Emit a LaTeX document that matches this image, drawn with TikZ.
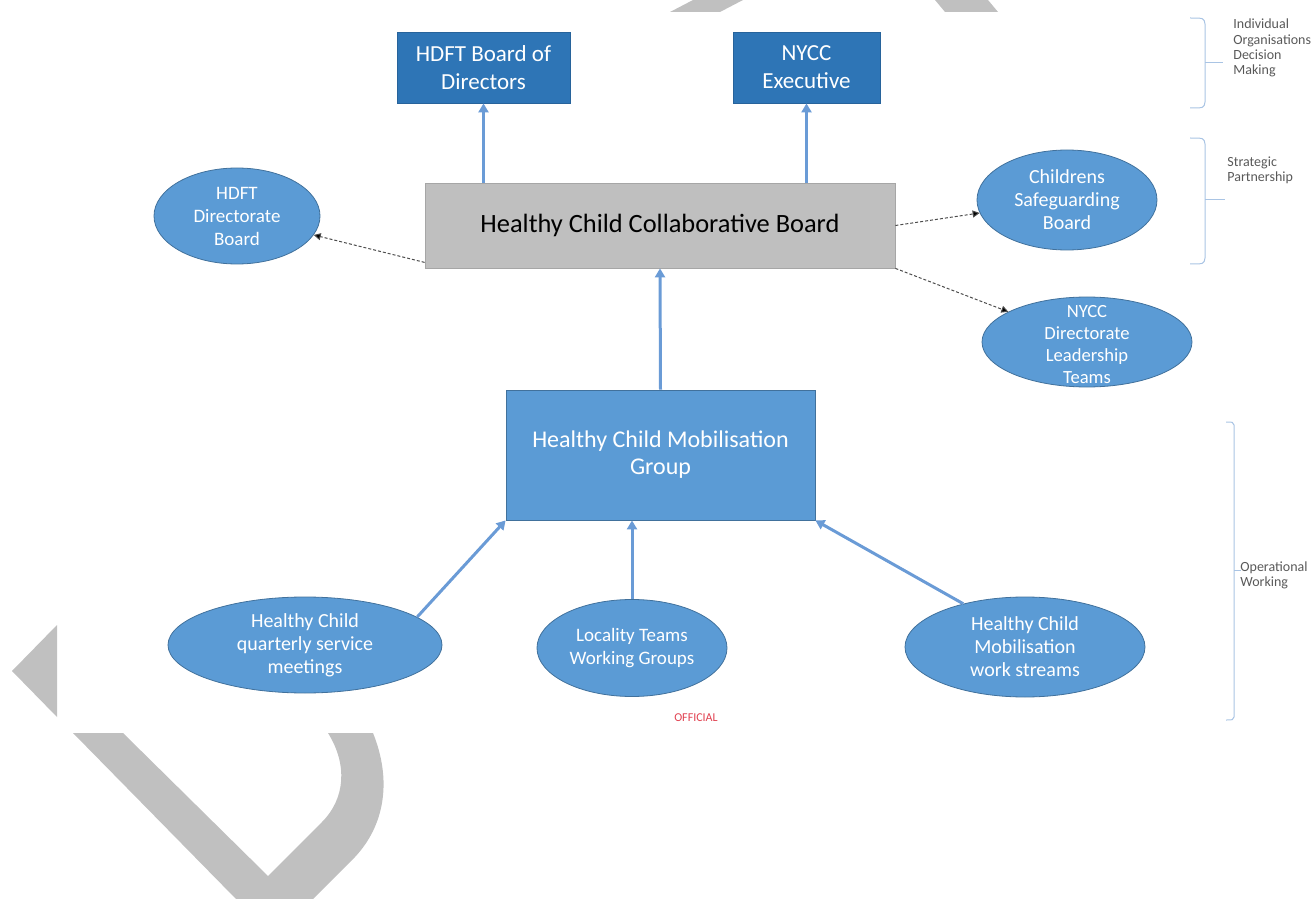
\documentclass[tikz,border=0pt]{standalone}
\usepackage{fontspec}
\setmainfont{Carlito}
\usetikzlibrary{arrows.meta,shapes.geometric}
\definecolor{wm}{HTML}{C0C0C0}
\definecolor{darkblue}{HTML}{2E75B6}
\definecolor{midblue}{HTML}{5B9BD5}
\definecolor{edgeblue}{HTML}{41719C}
\definecolor{arrowblue}{HTML}{6A9BD6}
\definecolor{bracecol}{HTML}{A9C4E4}
\definecolor{labelgray}{HTML}{595959}
\definecolor{officialred}{HTML}{E0404F}
\definecolor{boardgray}{HTML}{BFBFBF}
\tikzset{
  topbox/.style={draw=darkblue!85!black, fill=darkblue, text=white,
    font=\fontsize{11.5}{14}\selectfont, align=center, inner sep=0pt, line width=0.4pt},
  oval/.style={ellipse, draw=edgeblue, fill=midblue, inner sep=0pt, line width=0.4pt},
  ovaltext/.style={text=white, font=\fontsize{10}{11.5}\selectfont, align=center, inner sep=0pt},
  uparrow/.style={draw=arrowblue, line width=1.5pt, -{Triangle[length=4.5pt,width=5pt]}},
  dashlink/.style={draw=black!70, line width=0.5pt, dash pattern=on 1.5pt off 1pt,
    -{Triangle[length=3.5pt,width=3.5pt,fill=black]}},
  bracket/.style={draw=bracecol, line width=0.5pt},
  sidelabel/.style={text=labelgray, font=\fontsize{7}{7.6}\selectfont, align=left,
    anchor=west, inner sep=0pt},
  watermark/.style={fill=wm, draw=none}
}
\begin{document}
\begin{tikzpicture}[x=0.5pt,y=-0.5pt]
\useasboundingbox (0,0) rectangle (1314,899);
% watermark fragments
\fill[watermark] (693,0) -- (743,0) -- (720,12) -- (670,12) -- cycle;
\fill[watermark] (935,0) -- (988,0) -- (998,12) -- (945,12) -- cycle;
\fill[watermark] (12,671) -- (57,625) -- (57,717) -- cycle;
\fill[watermark] (73,733) -- (123,733) -- (268,876) -- (322,822)
  .. controls (345,799) and (348,765) .. (328,733) -- (373,733)
  .. controls (392,780) and (385,825) .. (355,857) -- (313,899) -- (236,899) -- cycle;

% nodes
\node[topbox, minimum width=86.5pt, minimum height=35.5pt] (hdftb) at (483.5,67.5) {HDFT Board of\\Directors};
\node[topbox, minimum width=73.5pt, minimum height=35.5pt] (nycc) at (806.5,67.5) {NYCC\\Executive};
\node[draw=black!35, fill=boardgray, minimum width=235pt, minimum height=42.5pt,
  font=\fontsize{13.2}{15}\selectfont] (collab) at (660,225.5) {Healthy Child Collaborative Board};

\node[oval, minimum width=83pt, minimum height=48pt] (hdftdir) at (237,216) {};
\node[ovaltext, font=\fontsize{9.5}{11.5}\selectfont] (hdftdirt) at (hdftdir) {HDFT\\Directorate\\Board};
\node[oval, minimum width=90pt, minimum height=50pt] (csb) at (1067,200) {};
\node[ovaltext] (csbt) at (csb) {Childrens\\Safeguarding\\Board};
\node[oval, minimum width=105pt, minimum height=45pt] (nyccdir) at (1087,342) {};
\node[ovaltext, font=\fontsize{9.3}{11}\selectfont] (nyccdirt) at (1087,345) {NYCC\\Directorate\\Leadership\\Teams};

\node[draw=edgeblue, fill=midblue, minimum width=154.5pt, minimum height=65pt, text=white,
  font=\fontsize{12}{13.5}\selectfont, align=center, line width=0.4pt] (mob) at (660.5,455)
  {Healthy Child Mobilisation\\Group};

\node[oval, minimum width=137pt, minimum height=48pt] (hcq) at (305,645) {};
\node[ovaltext] (hcqt) at (hcq) {Healthy Child\\quarterly service\\meetings};
\node[oval, minimum width=95pt, minimum height=48.5pt] (loc) at (632,648) {};
\node[ovaltext, font=\fontsize{9.5}{11.5}\selectfont] (loct) at (loc) {Locality Teams\\Working Groups};
\node[oval, minimum width=120pt, minimum height=50pt] (hcm) at (1025,647) {};
\node[ovaltext] (hcmt) at (hcm) {Healthy Child\\Mobilisation\\work streams};

% connectors
\draw[uparrow] (hdftb.south |- collab.north) -- (hdftb.south);
\draw[uparrow] (nycc.south |- collab.north) -- (nycc.south);
\draw[uparrow] (mob.north) -- (collab.south);
\draw[uparrow] (hcq.14) -- (mob.south west);
\draw[uparrow] (loc.north) -- (loc.north |- mob.south);
\draw[uparrow] (hcm.145) -- (mob.south east);
\draw[dashlink] ([yshift=3pt]collab.south west) -- (hdftdir);
\draw[dashlink] (collab.east) -- (csb);
\draw[dashlink] (collab.south east) -- (nyccdir);

% side brackets
\draw[bracket] (1190,18) .. controls (1204,18) .. (1205,24) -- (1205,102) .. controls (1204,108) .. (1190,108);
\draw[bracket] (1205,63) -- (1223,63);
\draw[bracket] (1190,138) .. controls (1204,138) .. (1205,144) -- (1205,258) .. controls (1204,264) .. (1190,264);
\draw[bracket] (1205,200) -- (1225,200);
\draw[bracket] (1226,422) .. controls (1233,422) .. (1234,425) -- (1234,717) .. controls (1233,720) .. (1226,720);
\draw[bracket] (1234,570) -- (1241,570);

\node[sidelabel] (lab1) at (1233,48) {Individual\\Organisations\\Decision\\Making};
\node[sidelabel] (lab2) at (1227,170) {Strategic\\Partnership};
\node[sidelabel] (lab3) at (1240,575) {Operational\\Working};

\node[text=officialred, font=\fontsize{6}{6}\selectfont, inner sep=0pt] (official) at (696,718) {OFFICIAL};
\end{tikzpicture}
\end{document}
